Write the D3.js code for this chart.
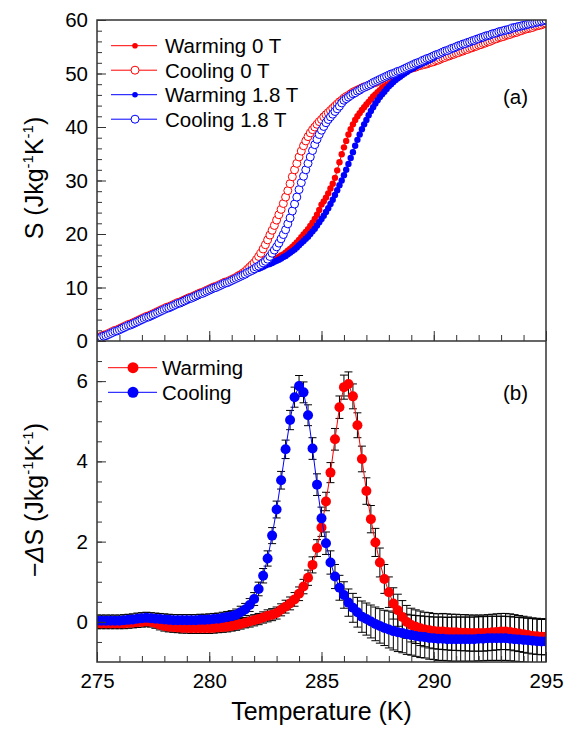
<!DOCTYPE html>
<html>
<head>
<meta charset="utf-8">
<script src="https://cdn.jsdelivr.net/npm/d3@7"></script>
<style>
body { margin: 0; background: #fff; }
text { font-family: "Liberation Sans", Arial, sans-serif; fill: #000; }
</style>
</head>
<body>
<script>
// ---- panel (a): S vs T, one value every 0.1 K from 275 K ----
var tempStartA = 275, tempStepA = 0.1;

var warmZero = [
  0.5,0.7,0.9,1.1,1.2,1.4,1.6,1.8,2.0,2.1,
  2.3,2.5,2.7,2.9,3.1,3.2,3.4,3.6,3.8,4.0,
  4.2,4.4,4.6,4.7,4.9,5.1,5.3,5.5,5.7,5.9,
  6.1,6.3,6.4,6.6,6.8,7.0,7.2,7.3,7.5,7.7,
  7.9,8.1,8.2,8.4,8.6,8.8,9.0,9.1,9.3,9.5,
  9.7,9.9,10.1,10.2,10.4,10.6,10.8,11.0,11.1,11.3,
  11.5,
  11.7,11.9,12.1,12.3,12.4,12.6,12.8,13.0,13.2,13.4,
  13.6,13.8,14.0,14.2,14.4,14.6,14.8,15.0,15.2,15.5,
  15.7,16.0,16.2,16.5,16.9,17.2,17.6,18.0,18.4,18.9,
  19.4,19.9,20.4,20.9,21.5,22.1,22.8,23.6,24.5,25.5,
  26.1,26.8,27.6,28.5,29.4,30.5,31.9,33.4,34.9,36.2,
  37.4,38.6,39.6,40.5,41.3,42.0,42.6,43.2,43.7,44.2,
  44.7,45.2,45.7,46.1,46.5,46.9,47.3,47.6,48.0,48.4,
  48.7,49.0,49.3,49.5,49.8,50.0,50.3,50.5,50.7,50.9,
  51.0,51.2,51.3,51.4,51.5,51.7,51.8,51.9,52.0,52.2,
  52.4,52.5,52.7,52.9,53.0,53.2,53.3,53.5,53.6,53.8,
  53.9,54.1,54.2,54.4,54.5,54.7,54.8,55.0,55.1,55.3,
  55.4,55.6,55.7,55.9,56.0,56.2,56.4,56.5,56.7,56.8,
  56.9,57.1,57.2,57.3,57.5,57.6,57.7,57.9,58.0,58.2,
  58.3,58.4,58.5,58.6,58.8,58.9,59.0,59.1,59.3,59.4
];

var coolZero = [
  0.5,0.7,0.9,1.1,1.2,1.4,1.6,1.8,2.0,2.1,
  2.3,2.5,2.7,2.9,3.1,3.2,3.4,3.6,3.8,4.0,
  4.2,4.4,4.6,4.7,4.9,5.1,5.3,5.5,5.7,5.9,
  6.1,6.3,6.4,6.6,6.8,7.0,7.2,7.3,7.5,7.7,
  7.9,8.1,8.2,8.4,8.6,8.8,9.0,9.1,9.3,9.5,
  9.7,9.9,10.1,10.2,10.4,10.6,10.8,11.0,11.1,11.3,
  11.5,
  11.7,11.9,12.2,12.4,12.7,13.0,13.4,13.8,14.2,14.6,
  15.2,15.8,16.4,17.2,18.0,18.9,19.8,20.7,21.6,22.6,
  23.6,24.6,25.7,26.9,28.1,29.4,30.7,32.0,33.2,34.4,
  35.5,36.5,37.4,38.2,38.9,39.5,40.0,40.5,41.0,41.4,
  41.9,42.3,42.7,43.1,43.5,43.9,44.3,44.7,45.0,45.4,
  45.7,45.9,46.2,46.5,46.7,46.9,47.1,47.3,47.5,47.6,
  47.8,48.0,48.2,48.3,48.5,48.7,48.9,49.0,49.2,49.4,
  49.6,49.7,49.9,50.0,50.2,50.4,50.5,50.7,50.8,51.0,
  51.1,51.2,51.4,51.5,51.6,51.7,51.8,52.0,52.1,52.2,
  52.4,52.5,52.7,52.9,53.0,53.2,53.3,53.5,53.6,53.8,
  53.9,54.1,54.2,54.4,54.5,54.7,54.8,55.0,55.1,55.3,
  55.4,55.6,55.7,55.9,56.0,56.2,56.4,56.5,56.7,56.8,
  56.9,57.1,57.2,57.3,57.5,57.6,57.7,57.9,58.0,58.2,
  58.3,58.4,58.5,58.6,58.8,58.9,59.0,59.1,59.3,59.4
];

var warmField = [
  0.3,0.5,0.7,0.9,1.0,1.2,1.4,1.6,1.8,1.9,
  2.1,2.3,2.5,2.7,2.9,3.0,3.2,3.4,3.6,3.8,
  4.0,4.2,4.4,4.5,4.7,4.9,5.1,5.3,5.5,5.7,
  5.9,6.1,6.2,6.4,6.6,6.8,7.0,7.1,7.3,7.5,
  7.7,7.9,8.0,8.2,8.4,8.6,8.8,8.9,9.1,9.3,
  9.5,9.7,9.9,10.0,10.2,10.4,10.6,10.8,10.9,11.1,
  11.3,
  11.5,11.7,11.9,12.0,12.2,12.4,12.6,12.8,13.0,13.2,
  13.4,13.5,13.7,13.9,14.1,14.3,14.4,14.6,14.8,15.0,
  15.2,15.4,15.7,15.9,16.2,16.5,16.8,17.1,17.5,17.9,
  18.3,18.7,19.1,19.5,20.0,20.5,21.0,21.6,22.2,22.8,
  23.4,24.1,24.8,25.6,26.4,27.3,28.2,29.1,30.0,31.0,
  32.0,33.1,34.2,35.3,36.5,37.6,38.6,39.6,40.5,41.3,
  42.2,43.0,43.7,44.4,45.0,45.6,46.1,46.6,47.1,47.6,
  48.0,48.4,48.8,49.1,49.4,49.7,50.0,50.3,50.6,50.8,
  51.0,51.3,51.5,51.7,51.9,52.1,52.3,52.5,52.7,52.9,
  53.3,53.4,53.6,53.8,54.0,54.1,54.3,54.5,54.6,54.8,
  55.0,55.1,55.3,55.4,55.6,55.7,55.9,56.0,56.2,56.3,
  56.5,56.6,56.8,56.9,57.0,57.2,57.3,57.4,57.6,57.7,
  57.8,57.9,58.0,58.1,58.3,58.4,58.5,58.6,58.7,58.8,
  58.9,59.0,59.1,59.2,59.3,59.4,59.5,59.6,59.7,59.8
];

var coolField = [
  0.3,0.5,0.7,0.9,1.0,1.2,1.4,1.6,1.8,1.9,
  2.1,2.3,2.5,2.7,2.9,3.0,3.2,3.4,3.6,3.8,
  4.0,4.2,4.4,4.5,4.7,4.9,5.1,5.3,5.5,5.7,
  5.9,6.1,6.2,6.4,6.6,6.8,7.0,7.1,7.3,7.5,
  7.7,7.9,8.0,8.2,8.4,8.6,8.8,8.9,9.1,9.3,
  9.5,9.7,9.9,10.0,10.2,10.4,10.6,10.8,10.9,11.1,
  11.3,
  11.5,11.7,11.9,12.1,12.3,12.5,12.8,13.0,13.2,13.5,
  13.8,14.0,14.3,14.6,14.9,15.3,15.8,16.4,17.0,17.6,
  18.3,19.1,19.9,20.8,21.9,23.0,24.3,25.6,26.9,28.3,
  29.6,30.8,32.0,33.2,34.4,35.6,36.7,37.7,38.6,39.4,
  40.1,40.8,41.4,41.9,42.4,42.9,43.4,43.9,44.5,45.0,
  45.3,45.6,45.9,46.2,46.4,46.7,46.9,47.2,47.4,47.6,
  47.8,48.0,48.3,48.5,48.7,48.9,49.1,49.3,49.5,49.7,
  49.9,50.0,50.2,50.4,50.5,50.7,50.9,51.1,51.3,51.5,
  51.7,51.9,52.0,52.2,52.4,52.6,52.8,52.9,53.1,53.3,
  53.5,53.6,53.8,54.0,54.2,54.3,54.5,54.7,54.8,55.0,
  55.2,55.3,55.5,55.6,55.8,55.9,56.1,56.2,56.4,56.5,
  56.7,56.8,57.0,57.1,57.2,57.4,57.5,57.6,57.8,57.9,
  58.0,58.1,58.2,58.3,58.5,58.6,58.7,58.8,58.9,59.0,
  59.1,59.2,59.3,59.4,59.5,59.6,59.7,59.8,59.9,60.0
];

// ---- panel (b): -dS vs T, one value every 0.2 K from 275 K ----
var tempStartB = 275, tempStepB = 0.2;

var warmDS = [
  -0.04,-0.04,-0.04,-0.04,-0.04,-0.04,-0.04,-0.03,-0.02,-0.01,
  0.00,0.01,0.00,-0.03,-0.07,-0.10,-0.12,-0.13,-0.14,-0.15,
  -0.15,-0.16,-0.16,-0.16,-0.16,-0.16,-0.15,-0.14,-0.13,-0.12,
  -0.10,-0.08,-0.05,-0.02,0.01,0.04,0.07,0.11,0.15,0.18,
  0.22,0.30,0.38,0.46,0.56,0.70,0.88,1.10,1.42,1.84,
  2.35,3.00,3.72,4.55,5.35,5.85,5.93,5.62,4.90,4.06,
  3.26,2.56,1.98,1.48,1.07,0.74,0.46,0.29,0.12,0.00,
  -0.08,-0.12,-0.16,-0.19,-0.21,-0.23,-0.24,-0.24,-0.25,-0.26,
  -0.26,-0.27,-0.27,-0.28,-0.28,-0.28,-0.28,-0.27,-0.26,-0.25,
  -0.24,-0.24,-0.25,-0.27,-0.29,-0.31,-0.33,-0.35,-0.36,-0.37,
  -0.37
];
var warmErr = [
  0.13,0.13,0.13,0.13,0.13,0.13,0.13,0.13,0.13,0.13,
  0.13,0.13,0.13,0.13,0.13,0.13,0.13,0.13,0.13,0.13,
  0.13,0.13,0.13,0.13,0.13,0.13,0.13,0.13,0.13,0.13,
  0.13,0.13,0.13,0.13,0.14,0.14,0.14,0.14,0.15,0.15,
  0.15,0.15,0.16,0.16,0.17,0.17,0.18,0.19,0.20,0.21,
  0.22,0.23,0.25,0.27,0.28,0.30,0.30,0.31,0.31,0.32,
  0.33,0.34,0.35,0.36,0.36,0.38,0.39,0.40,0.41,0.41,
  0.42,0.42,0.43,0.43,0.44,0.44,0.44,0.45,0.45,0.45,
  0.45,0.45,0.45,0.45,0.45,0.45,0.45,0.45,0.45,0.45,
  0.45,0.45,0.45,0.45,0.45,0.45,0.45,0.45,0.45,0.45,
  0.45
];

var coolDS = [
  0.03,0.03,0.03,0.03,0.03,0.03,0.04,0.05,0.06,0.08,
  0.09,0.10,0.09,0.08,0.07,0.06,0.05,0.04,0.04,0.04,
  0.04,0.04,0.04,0.05,0.05,0.06,0.07,0.08,0.10,0.12,
  0.14,0.18,0.24,0.31,0.42,0.57,0.82,1.15,1.58,2.15,
  2.80,3.53,4.30,5.03,5.60,5.88,5.72,5.15,4.32,3.42,
  2.58,1.96,1.48,1.13,0.85,0.67,0.48,0.35,0.24,0.13,
  0.07,0.01,-0.05,-0.10,-0.15,-0.19,-0.23,-0.26,-0.28,-0.31,
  -0.33,-0.35,-0.37,-0.38,-0.40,-0.41,-0.42,-0.42,-0.43,-0.43,
  -0.43,-0.43,-0.43,-0.43,-0.43,-0.42,-0.42,-0.41,-0.41,-0.41,
  -0.41,-0.41,-0.42,-0.43,-0.44,-0.45,-0.46,-0.47,-0.48,-0.49,
  -0.49
];
var coolErr = [
  0.14,0.14,0.14,0.14,0.14,0.14,0.14,0.14,0.14,0.14,
  0.14,0.14,0.14,0.14,0.14,0.14,0.14,0.14,0.14,0.14,
  0.14,0.14,0.14,0.14,0.14,0.14,0.14,0.14,0.14,0.14,
  0.14,0.14,0.15,0.15,0.16,0.16,0.17,0.18,0.19,0.20,
  0.21,0.22,0.23,0.24,0.25,0.26,0.26,0.26,0.27,0.27,
  0.28,0.28,0.29,0.30,0.31,0.33,0.34,0.36,0.37,0.39,
  0.40,0.41,0.42,0.43,0.44,0.46,0.47,0.48,0.49,0.50,
  0.50,0.51,0.52,0.52,0.53,0.53,0.54,0.54,0.54,0.55,
  0.55,0.55,0.55,0.55,0.55,0.55,0.55,0.55,0.55,0.55,
  0.55,0.55,0.55,0.55,0.55,0.55,0.55,0.55,0.55,0.55,
  0.55
];

var xTickLabels = [275, 280, 285, 290, 295];
var yTickLabelsA = [0, 10, 20, 30, 40, 50, 60];
var yTickLabelsB = [0, 2, 4, 6];

var seriesA = [
  { name: "Warming 0 T", vals: warmZero, color: "#ff0000", open: false },
  { name: "Cooling 0 T", vals: coolZero, color: "#ff0000", open: true },
  { name: "Warming 1.8 T", vals: warmField, color: "#0000ff", open: false },
  { name: "Cooling 1.8 T", vals: coolField, color: "#0000ff", open: true }
];
var seriesB = [
  { name: "Warming", vals: warmDS, err: warmErr, color: "#ff0000" },
  { name: "Cooling", vals: coolDS, err: coolErr, color: "#0000ff" }
];

/////////////////////////////////////////

var width = 570, height = 729;
var padL = 97, padR = 546, padT = 20, padMid = 341, padB = 662;

var x = d3.scaleLinear().domain([275, 295]).range([padL, padR]);
var yA = d3.scaleLinear().domain([0, 60]).range([padMid, padT]);
var yB = d3.scaleLinear().domain([-1, 7]).range([padB, padMid]);

var svg = d3.select("body").append("svg")
    .attr("width", width)
    .attr("height", height);

var defs = svg.append("defs");
defs.append("clipPath").attr("id", "clipA").append("rect")
    .attr("x", padL).attr("y", padT).attr("width", padR - padL).attr("height", padMid - padT);
defs.append("clipPath").attr("id", "clipB").append("rect")
    .attr("x", padL).attr("y", padMid).attr("width", padR - padL).attr("height", padB - padMid);

function toPoints(vals, start, step, err) {
    return vals.map(function (v, i) {
        return { t: start + i * step, v: v, e: err ? err[i] : 0 };
    });
}

// panel (a)
var gA = svg.append("g").attr("clip-path", "url(#clipA)");
seriesA.forEach(function (s) {
    var pts = toPoints(s.vals, tempStartA, tempStepA);
    gA.append("path").datum(pts)
        .attr("fill", "none")
        .attr("stroke", s.color)
        .attr("stroke-width", 1)
        .attr("d", d3.line().x(function (d) { return x(d.t); }).y(function (d) { return yA(d.v); }));
    gA.selectAll(null).data(pts).enter().append("circle")
        .attr("cx", function (d) { return x(d.t); })
        .attr("cy", function (d) { return yA(d.v); })
        .attr("r", s.open ? 4 : 3.2)
        .attr("fill", s.open ? "#fff" : s.color)
        .attr("stroke", s.open ? s.color : "none")
        .attr("stroke-width", 1);
});

// panel (b): error bars under the markers
var gB = svg.append("g").attr("clip-path", "url(#clipB)");
seriesB.forEach(function (s) {
    var pts = toPoints(s.vals, tempStartB, tempStepB, s.err);
    gB.selectAll(null).data(pts).enter().append("path")
        .attr("fill", "none")
        .attr("stroke", "#000")
        .attr("stroke-width", 1)
        .attr("d", function (d) {
            var cx = x(d.t), y1 = yB(d.v + d.e), y2 = yB(d.v - d.e);
            return "M" + (cx - 4) + "," + y1 + "H" + (cx + 4) + "M" + cx + "," + y1 + "V" + y2 + "M" + (cx - 4) + "," + y2 + "H" + (cx + 4);
        });
});
seriesB.forEach(function (s) {
    var pts = toPoints(s.vals, tempStartB, tempStepB, s.err);
    gB.append("path").datum(pts)
        .attr("fill", "none")
        .attr("stroke", s.color)
        .attr("stroke-width", 1)
        .attr("d", d3.line().x(function (d) { return x(d.t); }).y(function (d) { return yB(d.v); }));
    gB.selectAll(null).data(pts).enter().append("circle")
        .attr("cx", function (d) { return x(d.t); })
        .attr("cy", function (d) { return yB(d.v); })
        .attr("r", 5)
        .attr("fill", s.color);
});

// axes: inward ticks, minor then major
function styleAxis(g) {
    g.select(".domain").remove();
    g.selectAll(".tick line").attr("stroke", "#333");
    g.selectAll("text").attr("font-size", 20.5).attr("font-family", "Liberation Sans, Arial, sans-serif");
}

svg.append("g").attr("transform", "translate(" + padL + ",0)")
    .call(d3.axisLeft(yA).tickValues(d3.range(0, 61, 2)).tickSize(-5).tickFormat(""))
    .call(styleAxis);
svg.append("g").attr("transform", "translate(" + padL + ",0)")
    .call(d3.axisLeft(yA).tickValues(yTickLabelsA).tickSize(-9).tickPadding(9).tickFormat(d3.format("d")))
    .call(styleAxis);

svg.append("g").attr("transform", "translate(" + padL + ",0)")
    .call(d3.axisLeft(yB).tickValues(d3.range(-0.5, 7, 0.5)).tickSize(-5).tickFormat(""))
    .call(styleAxis);
svg.append("g").attr("transform", "translate(" + padL + ",0)")
    .call(d3.axisLeft(yB).tickValues(yTickLabelsB).tickSize(-9).tickPadding(9).tickFormat(d3.format("d")))
    .call(styleAxis);

[padMid, padB].forEach(function (yy, k) {
    svg.append("g").attr("transform", "translate(0," + yy + ")")
        .call(d3.axisBottom(x).tickValues(d3.range(276, 295, 1)).tickSize(-6).tickFormat(""))
        .call(styleAxis);
    svg.append("g").attr("transform", "translate(0," + yy + ")")
        .call(d3.axisBottom(x).tickValues(xTickLabels).tickSize(-10).tickPadding(11)
            .tickFormat(k === 1 ? d3.format("d") : ""))
        .call(styleAxis);
});

// frame
var frame = svg.append("g").attr("fill", "none").attr("stroke", "#333").attr("stroke-width", 1.5);
frame.append("rect").attr("x", padL).attr("y", padT).attr("width", padR - padL).attr("height", padB - padT);
frame.append("line").attr("x1", padL).attr("x2", padR).attr("y1", padMid).attr("y2", padMid);

// legends
var legA = svg.append("g");
seriesA.forEach(function (s, i) {
    var yy = 45.7 + i * 24.5;
    legA.append("line").attr("x1", 111).attr("x2", 157).attr("y1", yy).attr("y2", yy)
        .attr("stroke", s.color).attr("stroke-width", 1);
    legA.append("circle").attr("cx", 135).attr("cy", yy).attr("r", s.open ? 4 : 2.8)
        .attr("fill", s.open ? "#fff" : s.color).attr("stroke", s.open ? s.color : "none");
    legA.append("text").attr("x", 165).attr("y", yy + 7.3).attr("font-size", 20.5).text(s.name);
});

var legB = svg.append("g");
seriesB.forEach(function (s, i) {
    var yy = 367.7 + i * 24.6;
    legB.append("line").attr("x1", 108).attr("x2", 157).attr("y1", yy).attr("y2", yy)
        .attr("stroke", s.color).attr("stroke-width", 1);
    legB.append("circle").attr("cx", 133).attr("cy", yy).attr("r", 5.5).attr("fill", s.color);
    legB.append("text").attr("x", 162).attr("y", yy + 7.3).attr("font-size", 20.5).text(s.name);
});

svg.append("text").attr("x", 503).attr("y", 104).attr("font-size", 20.5).text("(a)");
svg.append("text").attr("x", 503).attr("y", 400).attr("font-size", 20.5).text("(b)");

// axis titles
svg.append("text").attr("x", (padL + padR) / 2).attr("y", 720)
    .attr("text-anchor", "middle").attr("font-size", 25).text("Temperature (K)");

function unitTitle(sel) {
    sel.append("tspan").text(" (Jkg");
    sel.append("tspan").attr("font-size", 15).attr("dy", -10).text("-1");
    sel.append("tspan").attr("dy", 10).text("K");
    sel.append("tspan").attr("font-size", 15).attr("dy", -10).text("-1");
    sel.append("tspan").attr("dy", 10).text(")");
}

var titleA = svg.append("text").attr("transform", "translate(43,178) rotate(-90)")
    .attr("text-anchor", "middle").attr("font-size", 25);
titleA.append("tspan").text("S");
titleA.call(unitTitle);

var titleB = svg.append("text").attr("transform", "translate(43,500) rotate(-90)")
    .attr("text-anchor", "middle").attr("font-size", 25);
titleB.append("tspan").text("\u2212");
titleB.append("tspan").attr("font-style", "italic").text("\u0394");
titleB.append("tspan").text("S");
titleB.call(unitTitle);
</script>
</body>
</html>
